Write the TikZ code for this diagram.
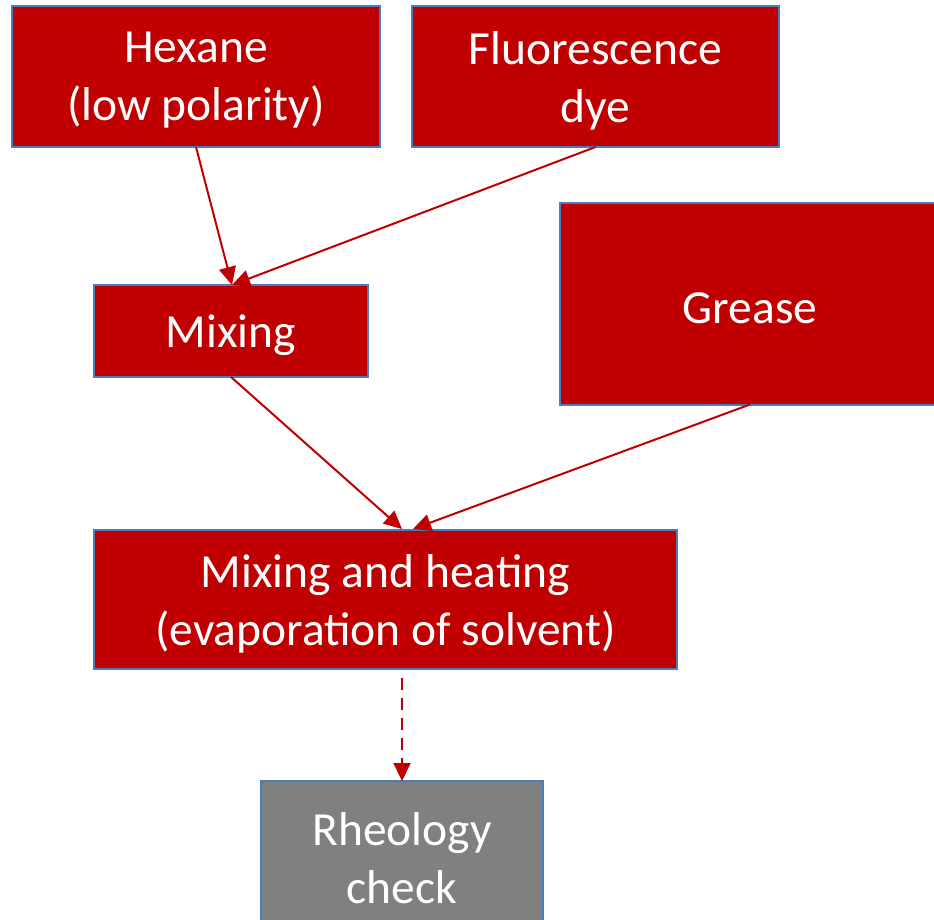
\documentclass[tikz,border=0pt]{standalone}
\usepackage{fontspec}
\setmainfont{Carlito}
\usetikzlibrary{arrows.meta}
\definecolor{boxred}{HTML}{C00000}
\definecolor{boxedge}{HTML}{4A7EBB}
\definecolor{boxgray}{HTML}{808080}
\newcommand\dn[1]{\raisebox{-4pt}[\height][\depth]{#1}}
\begin{document}
\begin{tikzpicture}[x=1pt,y=-1pt,
  box/.style={draw=boxedge, line width=2pt, fill=boxred, text=white, align=center,
    font=\fontsize{47.5}{58}\selectfont, inner sep=0pt, outer sep=0pt},
  conn/.style={draw=boxred, line width=2pt, -{Triangle[length=18pt,width=17pt]}}]
\useasboundingbox (0,0) rectangle (934,920);
\clip (0,0) rectangle (934,920);
\node[box, minimum width=368pt, minimum height=141pt] (hex) at (196,76.5) {\dn{Hexane}\\\dn{(low polarity)}};
\node[box, minimum width=367pt, minimum height=141pt] (flu) at (595.5,76.5) {\dn{Fluorescence}\\\dn{dye}};
\node[box, minimum width=274pt, minimum height=92pt] (mix) at (231,331) {\dn{Mixing}};
\node[box, minimum width=380pt, minimum height=201pt] (gre) at (750,304) {\dn{Grease}};
\node[box, minimum width=583pt, minimum height=139pt] (heat) at (385.5,599.5) {\dn{Mixing and heating}\\\dn{(evaporation of solvent)}};
\node[box, fill=boxgray, minimum width=282pt, minimum height=146pt] (rheo) at (402,854) {\dn{Rheology}\\\dn{check}};
\coordinate (m1) at (232,285);
\coordinate (h1) at (402,529);
\coordinate (h2) at (413,529);
\coordinate (hb) at (402,678);
\draw[conn] (hex.south) -- (m1);
\draw[conn] (flu.south) -- (m1);
\draw[conn] (mix.south) -- (h1);
\draw[conn] (gre.south) -- (h2);
\draw[conn, dash pattern=on 12pt off 8pt] (hb) -- (rheo.north);
\end{tikzpicture}
\end{document}
